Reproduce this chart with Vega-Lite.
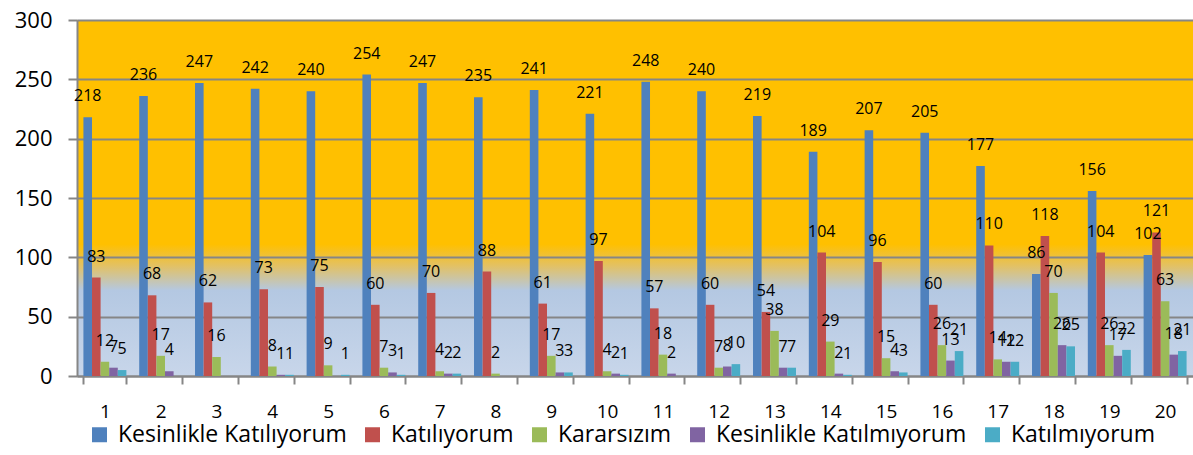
{
  "$schema": "https://vega.github.io/schema/vega-lite/v6.json",
  "width": 1116,
  "height": 356,
  "autosize": {"type": "none"},
  "padding": {"left": 77, "top": 20, "right": 0, "bottom": 79},
  "background": "white",
  "config": {
    "font": "Open Sans",
    "view": {
      "stroke": null,
      "fill": {
        "gradient": "linear", "x1": 0, "y1": 0, "x2": 0, "y2": 1,
        "stops": [
          {"offset": 0, "color": "#FFC000"},
          {"offset": 0.63, "color": "#FFC000"},
          {"offset": 0.69, "color": "#E3C163"},
          {"offset": 0.76, "color": "#B4C8E2"},
          {"offset": 1, "color": "#C8D6EA"}
        ]
      }
    }
  },
  "data": {
    "values": [
      {"g": 1, "Kesinlikle Katılıyorum": 218, "Katılıyorum": 83, "Kararsızım": 12, "Kesinlikle Katılmıyorum": 7, "Katılmıyorum": 5},
      {"g": 2, "Kesinlikle Katılıyorum": 236, "Katılıyorum": 68, "Kararsızım": 17, "Kesinlikle Katılmıyorum": 4},
      {"g": 3, "Kesinlikle Katılıyorum": 247, "Katılıyorum": 62, "Kararsızım": 16},
      {"g": 4, "Kesinlikle Katılıyorum": 242, "Katılıyorum": 73, "Kararsızım": 8, "Kesinlikle Katılmıyorum": 1, "Katılmıyorum": 1},
      {"g": 5, "Kesinlikle Katılıyorum": 240, "Katılıyorum": 75, "Kararsızım": 9, "Katılmıyorum": 1},
      {"g": 6, "Kesinlikle Katılıyorum": 254, "Katılıyorum": 60, "Kararsızım": 7, "Kesinlikle Katılmıyorum": 3, "Katılmıyorum": 1},
      {"g": 7, "Kesinlikle Katılıyorum": 247, "Katılıyorum": 70, "Kararsızım": 4, "Kesinlikle Katılmıyorum": 2, "Katılmıyorum": 2},
      {"g": 8, "Kesinlikle Katılıyorum": 235, "Katılıyorum": 88, "Kararsızım": 2},
      {"g": 9, "Kesinlikle Katılıyorum": 241, "Katılıyorum": 61, "Kararsızım": 17, "Kesinlikle Katılmıyorum": 3, "Katılmıyorum": 3},
      {"g": 10, "Kesinlikle Katılıyorum": 221, "Katılıyorum": 97, "Kararsızım": 4, "Kesinlikle Katılmıyorum": 2, "Katılmıyorum": 1},
      {"g": 11, "Kesinlikle Katılıyorum": 248, "Katılıyorum": 57, "Kararsızım": 18, "Kesinlikle Katılmıyorum": 2},
      {"g": 12, "Kesinlikle Katılıyorum": 240, "Katılıyorum": 60, "Kararsızım": 7, "Kesinlikle Katılmıyorum": 8, "Katılmıyorum": 10},
      {"g": 13, "Kesinlikle Katılıyorum": 219, "Katılıyorum": 54, "Kararsızım": 38, "Kesinlikle Katılmıyorum": 7, "Katılmıyorum": 7},
      {"g": 14, "Kesinlikle Katılıyorum": 189, "Katılıyorum": 104, "Kararsızım": 29, "Kesinlikle Katılmıyorum": 2, "Katılmıyorum": 1},
      {"g": 15, "Kesinlikle Katılıyorum": 207, "Katılıyorum": 96, "Kararsızım": 15, "Kesinlikle Katılmıyorum": 4, "Katılmıyorum": 3},
      {"g": 16, "Kesinlikle Katılıyorum": 205, "Katılıyorum": 60, "Kararsızım": 26, "Kesinlikle Katılmıyorum": 13, "Katılmıyorum": 21},
      {"g": 17, "Kesinlikle Katılıyorum": 177, "Katılıyorum": 110, "Kararsızım": 14, "Kesinlikle Katılmıyorum": 12, "Katılmıyorum": 12},
      {"g": 18, "Kesinlikle Katılıyorum": 86, "Katılıyorum": 118, "Kararsızım": 70, "Kesinlikle Katılmıyorum": 26, "Katılmıyorum": 25},
      {"g": 19, "Kesinlikle Katılıyorum": 156, "Katılıyorum": 104, "Kararsızım": 26, "Kesinlikle Katılmıyorum": 17, "Katılmıyorum": 22},
      {"g": 20, "Kesinlikle Katılıyorum": 102, "Katılıyorum": 121, "Kararsızım": 63, "Kesinlikle Katılmıyorum": 18, "Katılmıyorum": 21}
    ]
  },
  "transform": [
    {"fold": ["Kesinlikle Katılıyorum", "Katılıyorum", "Kararsızım", "Kesinlikle Katılmıyorum", "Katılmıyorum"], "as": ["s", "v"]},
    {"filter": "isValid(datum.v)"}
  ],
  "encoding": {
    "x": {
      "field": "g", "type": "ordinal",
      "scale": {"paddingInner": 0.23, "paddingOuter": 0.115},
      "axis": {
        "title": null, "labelAngle": 0, "labelFontSize": 19, "labelColor": "#000000",
        "labelPadding": 18, "tickBand": "extent", "tickSize": 8, "tickWidth": 2,
        "tickColor": "#868686", "domainColor": "#868686", "domainWidth": 2, "grid": false
      }
    },
    "xOffset": {
      "field": "s", "type": "nominal",
      "scale": {"domain": ["Kesinlikle Katılıyorum", "Katılıyorum", "Kararsızım", "Kesinlikle Katılmıyorum", "Katılmıyorum"], "paddingInner": 0, "paddingOuter": 0}
    },
    "y": {
      "field": "v", "type": "quantitative",
      "scale": {"domain": [0, 300], "nice": false},
      "axis": {
        "title": null, "values": [0, 50, 100, 150, 200, 250, 300],
        "labelFontSize": 22, "labelColor": "#000000", "labelPadding": 16,
        "tickSize": 9, "tickWidth": 2, "tickColor": "#868686",
        "domainColor": "#868686", "domainWidth": 2,
        "grid": true, "gridColor": "#868686", "gridWidth": 2
      }
    }
  },
  "layer": [
    {
      "mark": {"type": "bar"},
      "encoding": {
        "color": {
          "field": "s", "type": "nominal",
          "scale": {
            "domain": ["Kesinlikle Katılıyorum", "Katılıyorum", "Kararsızım", "Kesinlikle Katılmıyorum", "Katılmıyorum"],
            "range": ["#4F81BD", "#C0504D", "#9BBB59", "#8064A2", "#4BACC6"]
          },
          "legend": {
            "title": null, "orient": "none", "direction": "horizontal", "columns": 5,
            "legendX": 11, "legendY": 403, "padding": 0,
            "symbolType": "square", "symbolSize": 225, "symbolStrokeWidth": 0,
            "labelFontSize": 23, "labelColor": "#000000", "labelOffset": 7,
            "columnPadding": 14, "labelLimit": 400
          }
        }
      }
    },
    {
      "mark": {"type": "text", "baseline": "middle", "dy": -21, "fontSize": 16, "color": "#000000"},
      "encoding": {"text": {"field": "v", "type": "quantitative"}}
    }
  ]
}
